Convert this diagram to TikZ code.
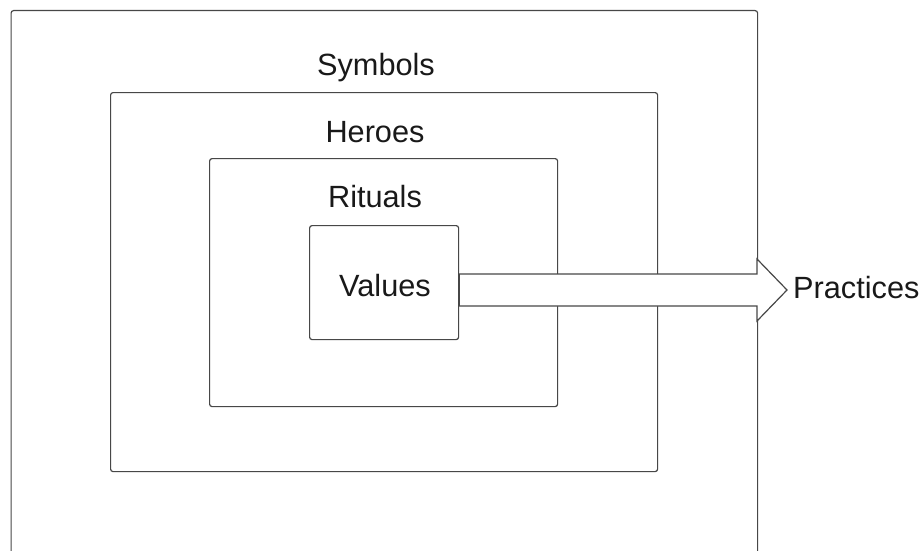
\documentclass[tikz,border=0pt]{standalone}
\usepackage{fontspec}
\setmainfont{Liberation Sans}
\usetikzlibrary{calc}
\begin{document}
\begin{tikzpicture}[x=1pt,y=-1pt,
  box/.style={draw=black!72, line width=1.2pt, rounded corners=2.5pt, fill=white, inner sep=0pt, anchor=north west},
  lbl/.style={font=\fontsize{30.7}{36}\selectfont, inner sep=0pt, text=black!90},
  bigarrow/.style={draw=black!72, line width=1.2pt, fill=white, line join=miter}]
\useasboundingbox (0,0) rectangle (923,551);
\node[box, minimum width=746.5pt, minimum height=620pt] (outer) at (10.5,10) {};
\node[box, minimum width=547pt, minimum height=379pt] (symbols) at (110,92) {};
\node[box, minimum width=348pt, minimum height=248pt] (heroes) at (209,158) {};
\node[box, minimum width=149pt, minimum height=114pt] (values) at (309,225) {};
\node[lbl, anchor=base] (tsymbols) at (376,75) {Symbols};
\node[lbl, anchor=base] (theroes) at (375,142) {Heroes};
\node[lbl, anchor=base] (trituals) at (375,207) {Rituals};
\node[lbl, anchor=base] (tvalues) at (385,296) {Values};
\coordinate (tip) at (787,290);
\node[lbl, anchor=base west] (practices) at (793,298) {Practices};
\draw[bigarrow] (values.east |- 0,274) -- (757,274) -- (757,259) -- (tip)
  -- (757,321) -- (757,306) -- (values.east |- 0,306) -- cycle;
\end{tikzpicture}
\end{document}
